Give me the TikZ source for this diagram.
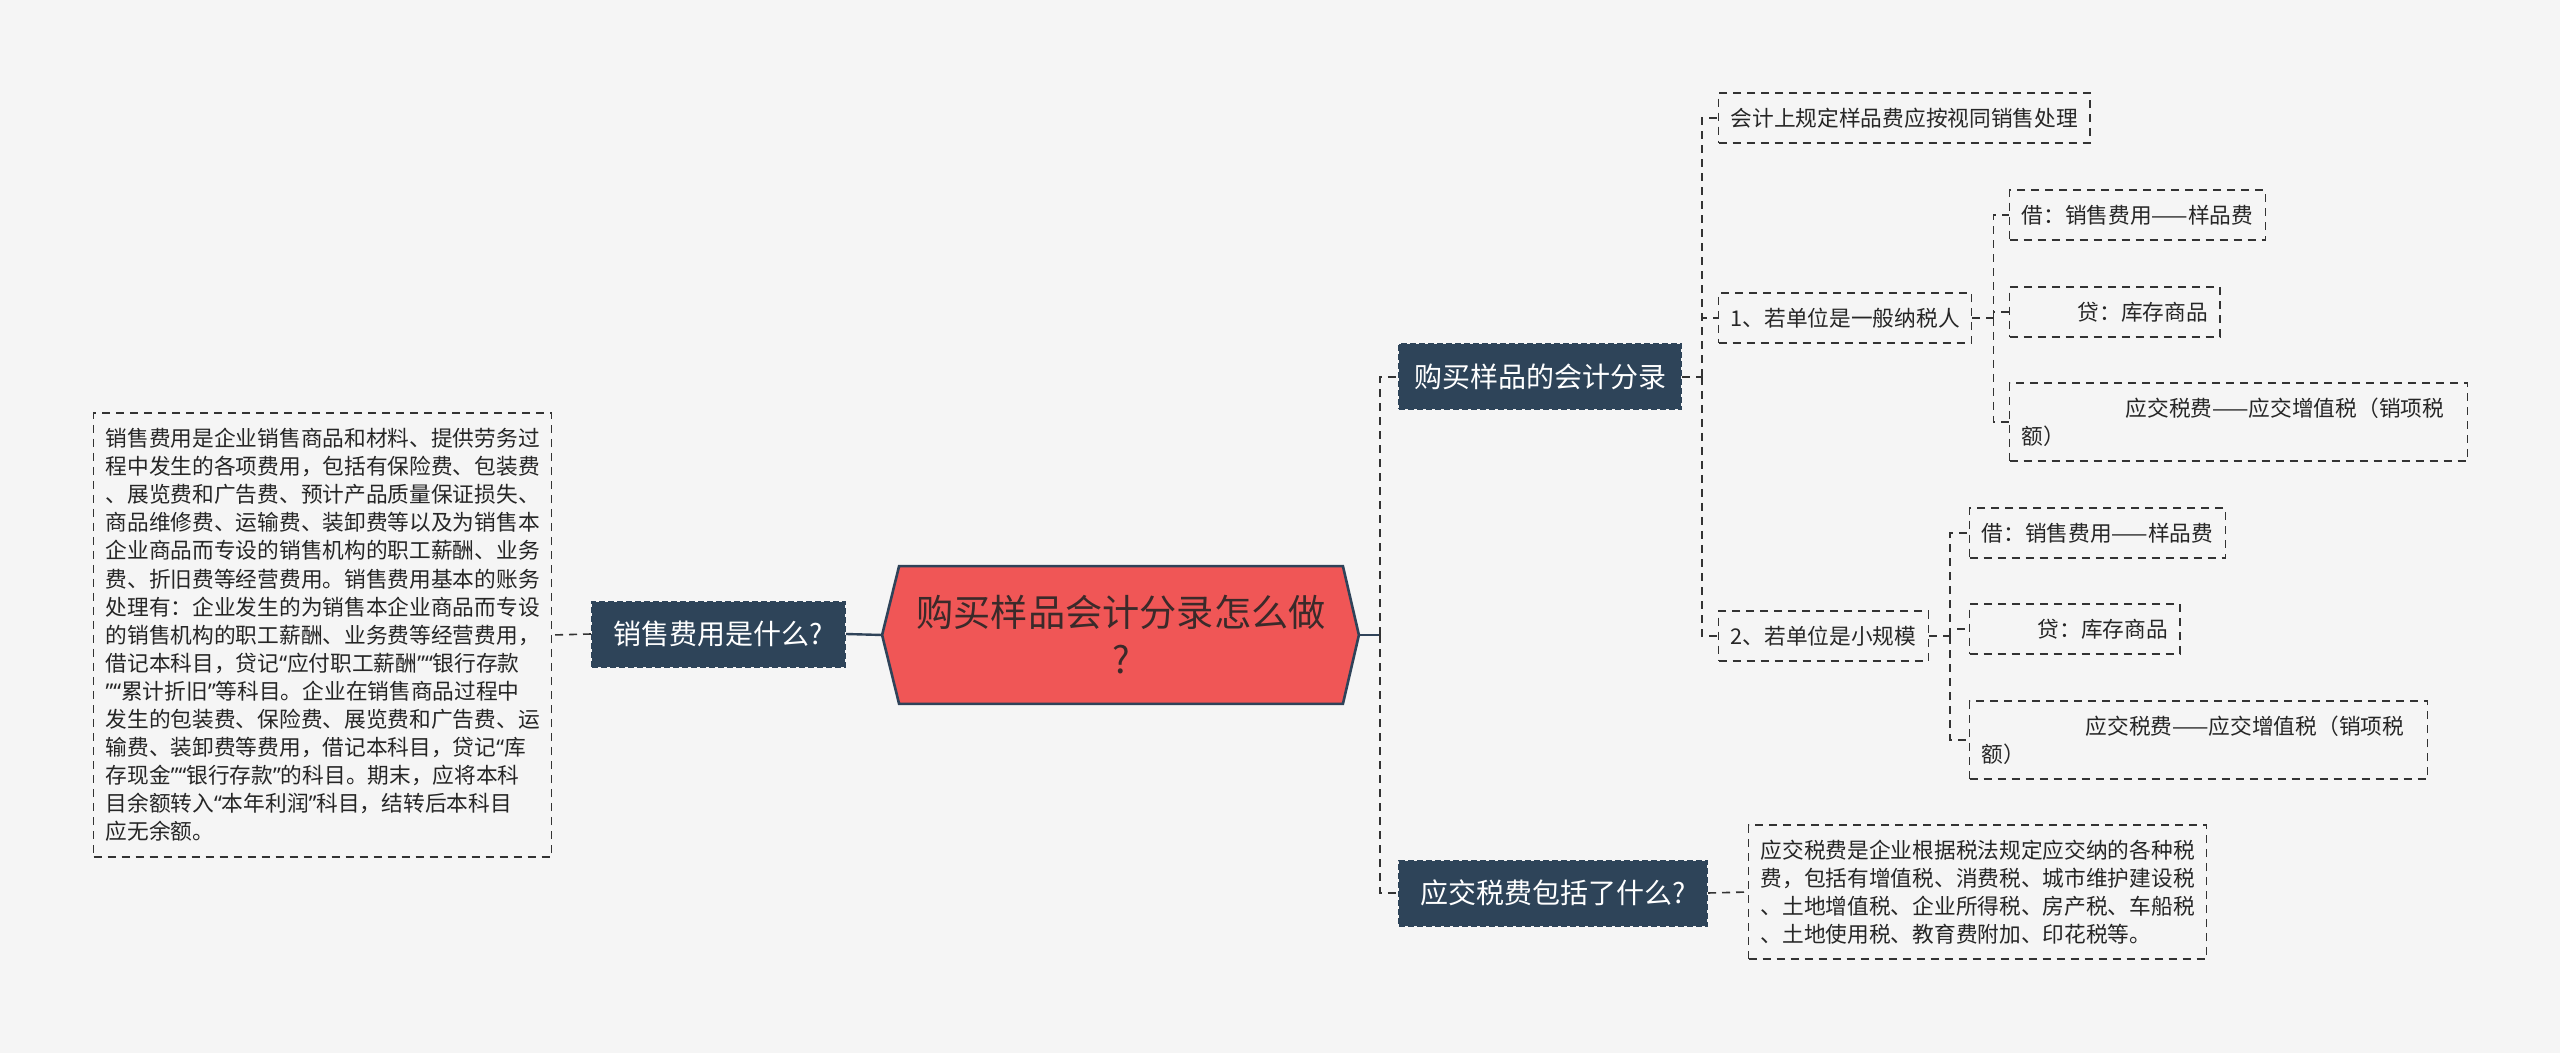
\documentclass[tikz,border=0pt]{standalone}
\usepackage{fontspec}
\setmainfont{Noto Sans CJK SC}
\newfontfamily\quotefont{Noto Sans}
\newcommand\oq{{\quotefont “}}
\newcommand\cq{{\quotefont ”}}
\usepackage{xcolor}
\usepackage{tikz}
\usetikzlibrary{positioning, backgrounds, calc}
\definecolor{pagefill}{HTML}{F5F5F5}
\definecolor{rootfill}{HTML}{F05656}
\definecolor{rootdraw}{HTML}{2F4359}
\definecolor{roottext}{HTML}{3B2A2A}
\definecolor{topicfill}{HTML}{2E4459}
\definecolor{leafdraw}{HTML}{333333}
\definecolor{leaftext}{HTML}{262626}
\tikzset{
  blk/.style={rectangle, inner ysep=0pt, inner xsep=6pt},
  topic/.style={blk, fill=topicfill, draw=topicfill, dash pattern=on 3pt off 1.5pt, line width=1pt, text=white, align=center, font=\fontsize{14}{17}\selectfont, minimum height=32.5pt},
  leaf/.style={blk, draw=leafdraw, dash pattern=on 4pt off 3pt, line width=0.7pt, text=leaftext, align=left, font=\fontsize{10.85}{14}\selectfont, minimum height=25pt},
  para/.style={leaf, text width=217pt},
  rootbox/.style={rectangle, inner sep=0pt, align=center, text=roottext, font=\fontsize{18.6}{23.5}\selectfont, minimum width=221.5pt, minimum height=68.5pt},
  link/.style={draw=leafdraw, line width=0.8pt, dash pattern=on 4pt off 3pt},
  rootlink/.style={draw=rootdraw, line width=1.2pt},
}

\begin{document}
\begin{tikzpicture}[x=0.5pt, y=-0.5pt]
  \node[rootbox] (root) at (1121,635) {购买样品会计分录怎么做\\?};
  \coordinate (rootR) at ($(root.east)+(16,0)$);
  \coordinate (rootL) at ($(root.west)+(-17,0)$);
  % left side
  \node[topic, anchor=west, minimum width=126.5pt] (sales) at (591,634) {销售费用是什么?};
  \node[para, anchor=west, minimum height=222pt, font=\fontsize{10.85}{14.05}\selectfont] (salesnote) at (93,635) {销售费用是企业销售商品和材料、提供劳务过\\
程中发生的各项费用，包括有保险费、包装费\\
、展览费和广告费、预计产品质量保证损失、\\
商品维修费、运输费、装卸费等以及为销售本\\
企业商品而专设的销售机构的职工薪酬、业务\\
费、折旧费等经营费用。销售费用基本的账务\\
处理有：企业发生的为销售本企业商品而专设\\
的销售机构的职工薪酬、业务费等经营费用，\\
借记本科目，贷记\oq 应付职工薪酬\cq\oq 银行存款\\
\cq\oq 累计折旧\cq 等科目。企业在销售商品过程中\\
发生的包装费、保险费、展览费和广告费、运\\
输费、装卸费等费用，借记本科目，贷记\oq 库\\
存现金\cq\oq 银行存款\cq 的科目。期末，应将本科\\
目余额转入\oq 本年利润\cq 科目，结转后本科目\\
应无余额。};
  % right side
  \node[topic, anchor=west, minimum width=141pt] (entry) at (1398,377) {购买样品的会计分录};
  \node[topic, anchor=west, minimum width=154pt] (tax) at (1398,893) {应交税费包括了什么?};
  \node[leaf, anchor=west] (rule) at (1718,118) {会计上规定样品费应按视同销售处理};
  \node[leaf, anchor=west] (general) at (1718,318) {1、若单位是一般纳税人};
  \node[leaf, anchor=west] (small) at (1718,636) {2、若单位是小规模};
  \node[leaf, anchor=west] (gdebit) at (2009,215) {借：销售费用——样品费};
  \node[leaf, anchor=west] (gcredit) at (2009,312) {\hspace*{28pt}贷：库存商品};
  \node[para, anchor=west, minimum height=39pt] (gvat) at (2009,422) {\hspace*{52pt}应交税费——应交增值税（销项税\\额）};
  \node[leaf, anchor=west] (sdebit) at (1969,533) {借：销售费用——样品费};
  \node[leaf, anchor=west] (scredit) at (1969,629) {\hspace*{28pt}贷：库存商品};
  \node[para, anchor=west, minimum height=39pt] (svat) at (1969,740) {\hspace*{52pt}应交税费——应交增值税（销项税\\额）};
  \node[para, anchor=west, minimum height=67pt] (taxnote) at (1748,892) {应交税费是企业根据税法规定应交纳的各种税\\
费，包括有增值税、消费税、城市维护建设税\\
、土地增值税、企业所得税、房产税、车船税\\
、土地使用税、教育费附加、印花税等。};
  % junctions
  \coordinate (rj) at ($(rootR)+(21,0)$);
  \coordinate (ej) at ($(entry.east)+(20,0)$);
  \coordinate (gj) at ($(general.east)+(21,0)$);
  \coordinate (sj) at ($(small.east)+(21,0)$);
  \begin{scope}[on background layer]
    \fill[pagefill] (0,0) rectangle (2560,1053);
    \draw[rootdraw, fill=rootfill, line width=1.3pt] (root.north west) -- (root.north east) -- (rootR) -- (root.south east) -- (root.south west) -- (rootL) -- cycle;
  \end{scope}
  \draw[rootlink] (rootL) -- (sales.east);
  \draw[link] (sales.west) -- (salesnote.east);
  \draw[rootlink] (rootR) -- (rj);
  \draw[link] (rj) |- (entry.west);
  \draw[link] (rj) |- (tax.west);
  \draw[link] (tax.east) -- (taxnote.west);
  \draw[link] (entry.east) -- (ej);
  \draw[link] (ej) |- (rule.west);
  \draw[link] (ej) |- (general.west);
  \draw[link] (ej) |- (small.west);
  \draw[link] (general.east) -- (gj);
  \draw[link] (gj) |- (gdebit.west);
  \draw[link] (gj) |- (gcredit.west);
  \draw[link] (gj) |- (gvat.west);
  \draw[link] (small.east) -- (sj);
  \draw[link] (sj) |- (sdebit.west);
  \draw[link] (sj) |- (scredit.west);
  \draw[link] (sj) |- (svat.west);
\end{tikzpicture}
\end{document}
